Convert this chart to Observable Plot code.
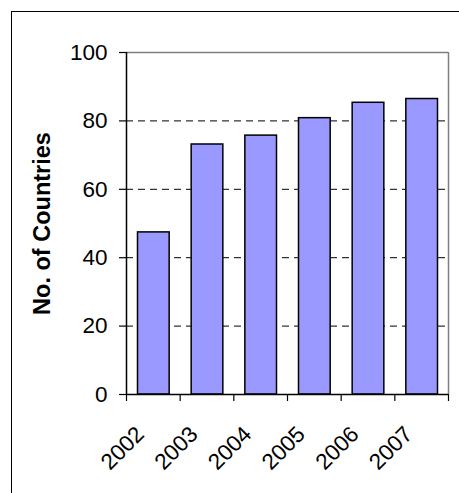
<!DOCTYPE html>
<html>
<head>
<meta charset="utf-8">
<script src="https://cdn.jsdelivr.net/npm/d3@7"></script>
<script src="https://cdn.jsdelivr.net/npm/@observablehq/plot@0.6"></script>
<style>
  html, body { margin: 0; padding: 0; background: #fff; overflow: hidden; }
  #wrap { position: relative; width: 459px; height: 493px; overflow: hidden; }
  #frame { position: absolute; left: 11px; top: 11px; width: 460px; height: 500px; border: 1.5px solid #000; box-sizing: border-box; pointer-events: none; }
  #chart { position: absolute; left: 0; top: 0; }
</style>
</head>
<body>
<div id="wrap"><div id="chart"></div><div id="frame"></div></div>
<script>
const years = ["2002", "2003", "2004", "2005", "2006", "2007"];
const countries = [47.4, 73.1, 75.7, 80.8, 85.3, 86.4];
const yTicks = [0, 20, 40, 60, 80, 100];
const gridValues = [20, 40, 60, 80];
const yLabel = "No. of Countries";

const data = years.map((year, i) => ({year, i, value: countries[i]}));
const boundaries = d3.range(years.length + 1);
const yMax = yTicks[yTicks.length - 1];

const chart = Plot.plot({
  width: 459,
  height: 493,
  marginLeft: 126,
  marginRight: 11,
  marginTop: 52,
  marginBottom: 99,
  style: {fontFamily: "'Liberation Sans', Arial, sans-serif", background: "transparent", color: "#000"},
  x: {type: "linear", domain: [0, years.length], axis: null},
  y: {domain: [0, yMax], axis: null},
  marks: [
    Plot.ruleY(gridValues, {stroke: "#000", strokeWidth: 1, strokeDasharray: "7,5"}),
    Plot.ruleY([yMax], {stroke: "#808080", strokeWidth: 1.5}),
    Plot.ruleX([years.length], {stroke: "#808080", strokeWidth: 1.5}),
    Plot.rectY(data, {
      x1: d => d.i, x2: d => d.i + 1, y: "value",
      insetLeft: 11.5, insetRight: 10.5,
      fill: "#9999FF", stroke: "#000", strokeWidth: 1.5
    }),
    Plot.ruleX([0], {stroke: "#000", strokeWidth: 1.5}),
    Plot.ruleY([0], {stroke: "#000", strokeWidth: 1.5}),
    Plot.axisY({ticks: yTicks, tickSize: 7, tickPadding: 12, fontSize: 22.5, stroke: "#000", strokeWidth: 1.2, label: null}),
    Plot.axisX({ticks: boundaries, tickSize: 7, tickFormat: () => "", stroke: "#000", strokeWidth: 1.2, label: null}),
    Plot.text(data, {
      x: d => d.i + 0.5, y: () => 0, text: "year",
      rotate: -45, textAnchor: "end", dx: -13, dy: 36, fontSize: 22.5, fill: "#000"
    }),
    Plot.text([yLabel], {
      frameAnchor: "left", dx: -84, rotate: -90, textAnchor: "middle",
      fontSize: 23.5, fontWeight: "bold", fill: "#000"
    })
  ]
});
document.getElementById("chart").appendChild(chart);
</script>
</body>
</html>
